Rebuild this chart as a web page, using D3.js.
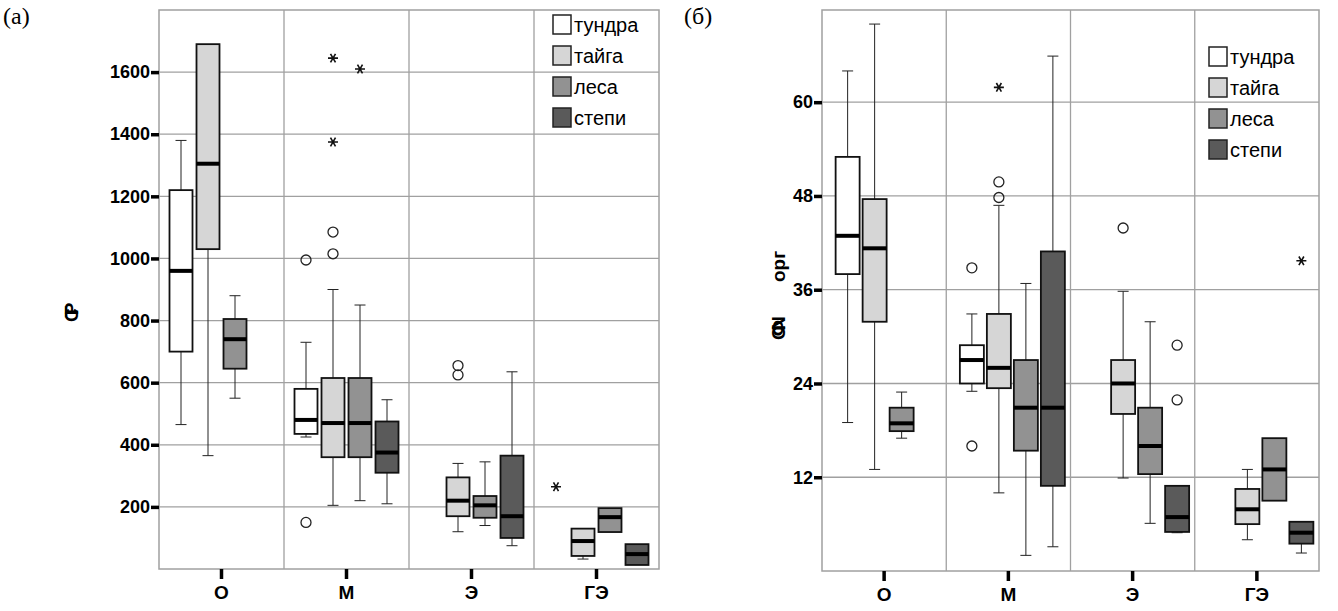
<!DOCTYPE html>
<html><head><meta charset="utf-8">
<script src="https://cdn.jsdelivr.net/npm/d3@7"></script>
<style>body{margin:0;background:#fff}</style></head>
<body><svg id="c" width="1338" height="611"></svg>
<script>
const categories = ["О","М","Э","ГЭ"];
const series = ["тундра","тайга","леса","степи"];
const fills = ["#ffffff","#d6d6d6","#929292","#5a5a5a"];
// [category, series, whiskerLow, q1, median, q3, whiskerHigh]
const boxesA = [
  [0,0,465,700,960,1220,1380],[0,1,365,1030,1305,1690,1690],[0,2,550,645,740,805,880],
  [1,0,425,435,480,580,730],[1,1,205,360,470,615,900],[1,2,220,360,470,615,850],[1,3,210,310,375,475,545],
  [2,1,120,170,220,295,340],[2,2,140,165,205,235,345],[2,3,75,100,170,365,635],
  [3,1,32,42,90,130,130],[3,2,119,119,167,196,196],[3,3,13,13,48,80,80]
];
// [category, series, value, type] type: o circle, * asterisk
const outliersA = [
  [1,0,995,"o"],[1,0,150,"o"],[1,1,1015,"o"],[1,1,1085,"o"],[1,1,1375,"*"],[1,1,1645,"*"],[1,2,1610,"*"],
  [2,1,625,"o"],[2,1,655,"o"],[3,0,265,"*"]
];
const ticksA = [200,400,600,800,1000,1200,1400,1600];
const boxesB = [
  [0,0,19,38,42.9,53,64],[0,1,13,31.9,41.3,47.6,70],[0,2,17,17.9,18.9,20.9,22.9],
  [1,0,23,24,27,28.9,32.9],[1,1,10,23.4,26,32.9,46.8],[1,2,2,15.4,20.9,27,36.8],[1,3,3.1,10.9,20.9,40.9,65.9],
  [2,1,11.9,20.1,24,27,35.8],[2,2,6.1,12.4,16,20.9,31.9],[2,3,4.9,5,6.9,10.9,10.9],
  [3,1,4,6,7.9,10.5,13],[3,2,9,9,13,17,17],[3,3,2.3,3.5,4.9,6.3,6.3]
];
const outliersB = [
  [1,0,38.8,"o"],[1,0,16,"o"],[1,1,49.8,"o"],[1,1,47.8,"o"],[1,1,61.9,"*"],
  [2,1,43.9,"o"],[2,3,28.9,"o"],[2,3,21.9,"o"],[3,3,39.7,"*"]
];
const ticksB = [12,24,36,48,60];

const svg = d3.select("#c");
const F = "'Liberation Sans', Arial, sans-serif";

function panel(o){
  const g = svg.append("g");
  const x = d3.scaleBand().domain(categories).range([o.x0,o.x1]);
  const inner = d3.scaleBand().domain(series).range([-54+o.shift,54+o.shift]);
  const y = d3.scaleLinear().domain([0,o.ymax]).range([o.y1,o.y0]);
  g.selectAll(".hg").data(o.ticks).join("line").attr("x1",o.x0).attr("x2",o.x1)
    .attr("y1",d=>y(d)).attr("y2",d=>y(d)).attr("stroke","#a0a0a0").attr("stroke-width",1.3);
  g.selectAll(".vg").data(categories.slice(1)).join("line").attr("x1",d=>x(d)).attr("x2",d=>x(d))
    .attr("y1",o.y0).attr("y2",o.y1).attr("stroke","#a0a0a0").attr("stroke-width",1.3);
  g.append("rect").attr("x",o.x0).attr("y",o.y0).attr("width",o.x1-o.x0).attr("height",o.y1-o.y0)
    .attr("fill","none").attr("stroke","#a0a0a0").attr("stroke-width",1.5);
  const ya = g.append("g").attr("transform",`translate(${o.x0},0)`)
    .call(d3.axisLeft(y).tickValues(o.ticks).tickFormat(d3.format("d")).tickSize(8).tickPadding(1));
  ya.select(".domain").remove();
  ya.selectAll("line").attr("stroke","#000").attr("stroke-width",3.5);
  ya.selectAll("text").style("font-family",F).style("font-weight","bold").style("font-size","18px").attr("fill","#000");
  const xa = g.append("g").attr("transform",`translate(0,${o.y1})`)
    .call(d3.axisBottom(x).tickSize(10).tickPadding(7));
  xa.select(".domain").remove();
  xa.selectAll("line").attr("stroke","#000").attr("stroke-width",3.5);
  xa.selectAll("text").style("font-family",F).style("font-weight","bold").style("font-size","19px").attr("fill","#000");
  const bw = o.bw;
  o.boxes.forEach(b=>{
    const cx = x(categories[b[0]]) + x.bandwidth()/2 + inner(series[b[1]]) + inner.bandwidth()/2;
    const gg = g.append("g");
    const cap = 11;
    if (b[6]>b[5]) {
      gg.append("line").attr("x1",cx).attr("x2",cx).attr("y1",y(b[5])).attr("y2",y(b[6])).attr("stroke","#222");
      gg.append("line").attr("x1",cx-cap/2).attr("x2",cx+cap/2).attr("y1",y(b[6])).attr("y2",y(b[6])).attr("stroke","#222");
    }
    if (b[2]<b[3]) {
      gg.append("line").attr("x1",cx).attr("x2",cx).attr("y1",y(b[3])).attr("y2",y(b[2])).attr("stroke","#222");
      gg.append("line").attr("x1",cx-cap/2).attr("x2",cx+cap/2).attr("y1",y(b[2])).attr("y2",y(b[2])).attr("stroke","#222");
    }
    gg.append("rect").attr("x",cx-bw/2).attr("width",bw).attr("y",y(b[5])).attr("height",y(b[3])-y(b[5]))
      .attr("fill",fills[b[1]]).attr("stroke","#111").attr("stroke-width",1.8);
    gg.append("line").attr("x1",cx-bw/2).attr("x2",cx+bw/2).attr("y1",y(b[4])).attr("y2",y(b[4]))
      .attr("stroke","#000").attr("stroke-width",4);
  });
  o.outliers.forEach(p=>{
    const cx = x(categories[p[0]]) + x.bandwidth()/2 + inner(series[p[1]]) + inner.bandwidth()/2;
    if (p[3]==="o") g.append("circle").attr("cx",cx).attr("cy",y(p[2])).attr("r",5)
      .attr("fill","none").attr("stroke","#222").attr("stroke-width",1.3);
    else g.append("path").attr("d",d3.symbol(d3.symbolAsterisk,70)()).attr("transform",`translate(${cx},${y(p[2])}) rotate(90)`)
      .attr("stroke","#111").attr("stroke-width",1.6).attr("fill","none");
  });
  const lg = g.append("g").attr("transform",`translate(${o.lx},${o.ly})`);
  series.forEach((s,i)=>{
    lg.append("rect").attr("x",0).attr("y",i*31).attr("width",18).attr("height",19)
      .attr("fill",fills[i]).attr("stroke","#222").attr("stroke-width",1.5);
    lg.append("text").attr("x",21).attr("y",i*31+17).text(s).style("font-family",F).style("font-size","20px");
  });
}

panel({x0:159,x1:659,y0:10,y1:569,ymax:1800,ticks:ticksA,boxes:boxesA,outliers:outliersA,shift:0,bw:23,lx:553,ly:15});
panel({x0:822,x1:1319,y0:10,y1:571,ymax:71.8,ticks:ticksB,boxes:boxesB,outliers:outliersB,shift:4,bw:24,lx:1209,ly:47});

svg.append("text").attr("x",3).attr("y",24).text("(a)").style("font-family","'Liberation Serif', 'Times New Roman', serif").style("font-size","24px");
svg.append("text").attr("x",684).attr("y",24).text("(б)").style("font-family","'Liberation Serif', 'Times New Roman', serif").style("font-size","24px");
svg.append("text").attr("transform","translate(78,322) rotate(-90)").text("СТР")
  .style("font-family",F).style("font-weight","bold").style("font-size","19px").style("letter-spacing","-9px");
svg.append("text").attr("transform","translate(785,340) rotate(-90)").text("СФN")
  .style("font-family",F).style("font-weight","bold").style("font-size","19px").style("letter-spacing","-10px");
svg.append("text").attr("transform","translate(785,282) rotate(-90)").text("орг")
  .style("font-family",F).style("font-weight","bold").style("font-size","19px");
</script></body></html>
